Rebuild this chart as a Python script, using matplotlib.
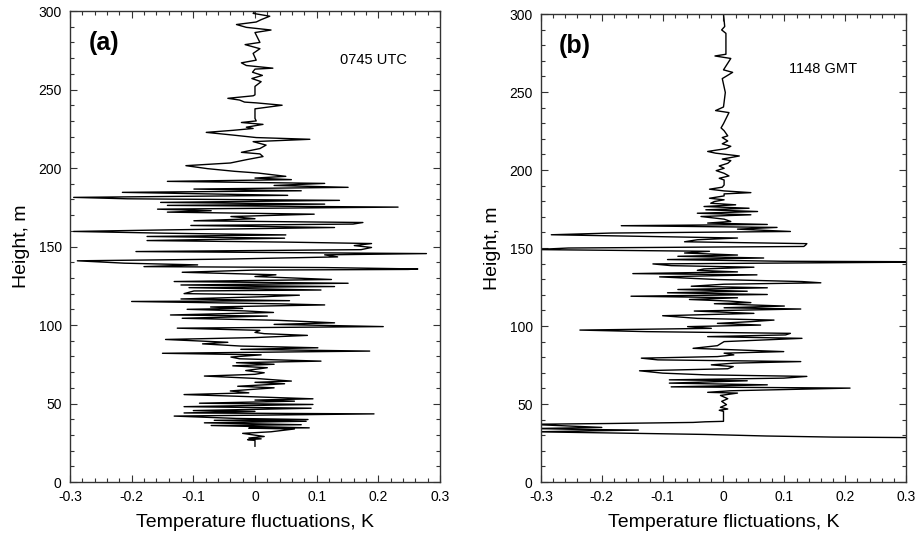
import matplotlib
matplotlib.use("Agg")
import matplotlib.pyplot as plt
from matplotlib.ticker import MultipleLocator

plt.rcParams['font.family'] = ['Liberation Sans', 'DejaVu Sans']

# panel (a): 0745 UTC profile, height (m) and temperature fluctuation (K)
height_a = [22.8, 26.5, 27.0, 27.5, 28.0, 29.0, 31.0, 32.0, 33.8, 34.3, 34.5, 36.0, 36.5, 37.7,
            38.7, 39.3, 39.8, 40.5, 42.0, 43.4, 44.0, 45.0, 45.5, 47.0, 48.0, 49.4, 50.2, 51.5,
            52.2, 53.0, 54.7, 55.7, 56.8, 58.0, 60.0, 61.0, 62.6, 63.5, 64.3, 66.0, 67.5, 68.6,
            69.6, 71.0, 72.8, 74.0, 75.0, 76.0, 77.0, 78.5, 79.6, 81.0, 82.0, 83.4, 84.5, 85.5,
            86.6, 88.0, 89.0, 90.8, 92.0, 93.4, 94.5, 95.3, 96.6, 98.0, 99.0, 100.4, 101.4, 103.0,
            104.3, 105.7, 106.4, 108.0, 109.0, 110.0, 110.6, 111.5, 112.8, 113.5, 115.0, 115.5,
            116.6, 118.0, 119.0, 120.0, 121.7, 122.3, 123.8, 124.5, 125.5, 126.6, 127.7, 129.0,
            130.9, 132.0, 133.6, 135.0, 135.4, 135.7, 136.6, 137.2, 138.3, 139.4, 140.9, 142.0,
            143.4, 144.7, 145.5, 146.8, 148.0, 149.4, 150.6, 151.9, 152.8, 153.8, 155.3, 156.4,
            157.4, 158.5, 159.6, 160.6, 162.1, 163.4, 164.3, 165.3, 166.4, 167.7, 169.1, 170.6,
            171.9, 172.8, 173.8, 175.1, 176.2, 177.0, 178.1, 179.4, 180.4, 181.3, 182.6, 183.6,
            184.5, 185.5, 186.6, 187.7, 188.9, 190.2, 191.5, 192.6, 193.6, 194.7, 196.8, 197.9,
            199.6, 201.5, 203.2, 205.3, 207.3, 209.0, 210.0, 212.4, 214.6, 216.8, 218.3, 219.4,
            221.0, 222.7, 224.0, 225.2, 226.0, 227.8, 229.0, 230.0, 231.6, 237.7, 240.0, 241.5,
            242.0, 243.3, 244.4, 246.0, 246.6, 252.0, 255.0, 257.0, 259.0, 261.0, 263.0, 263.6,
            265.3, 267.0, 268.7, 273.0, 276.0, 278.6, 280.0, 286.3, 287.9, 289.6, 291.4, 293.0,
            294.5, 296.7, 298.5, 300.0]
temp_a = [0.0, 0.0, -0.012, 0.01, -0.01, 0.015, -0.02, 0.026, 0.064, -0.01, 0.088, -0.071, 0.075,
          -0.082, 0.083, -0.066, 0.086, -0.03, -0.131, 0.193, -0.115, 0.0, -0.1, 0.091, -0.115,
          0.094, -0.09, 0.064, 0.0, 0.094, -0.034, -0.115, -0.01, -0.04, 0.031, -0.028, 0.048,
          0.0, 0.059, 0.0, -0.082, 0.0, 0.015, -0.015, 0.02, -0.036, 0.031, -0.03, 0.107, -0.025,
          -0.039, 0.01, -0.15, 0.186, -0.023, 0.102, -0.023, -0.085, -0.044, -0.145, 0.0, 0.085,
          0.015, 0.0, 0.008, -0.126, 0.208, 0.031, 0.129, 0.037, -0.118, 0.02, -0.137, 0.03,
          -0.017, -0.11, -0.02, -0.072, 0.113, 0.04, -0.2, 0.056, -0.12, 0.012, 0.072, -0.115,
          -0.099, 0.107, -0.107, 0.129, -0.12, 0.151, -0.131, 0.124, 0.0, 0.034, -0.118, 0.0,
          0.248, 0.264, 0.113, -0.18, -0.093, -0.212, -0.288, -0.044, 0.134, 0.113, 0.278, -0.193,
          0.172, 0.189, 0.161, 0.189, 0.053, -0.175, 0.048, -0.175, 0.05, -0.147, -0.294, -0.142,
          0.129, -0.104, 0.159, 0.175, -0.099, 0.0, -0.039, 0.096, -0.142, -0.071, -0.158, 0.232,
          -0.142, 0.113, -0.153, 0.137, -0.207, -0.294, 0.053, -0.088, -0.215, 0.075, -0.099,
          0.151, 0.031, 0.113, -0.142, 0.059, 0.0, 0.05, 0.005, -0.033, -0.077, -0.112, -0.04,
          -0.014, 0.013, 0.008, -0.022, 0.008, 0.018, -0.003, 0.089, 0.002, -0.036, -0.079,
          -0.036, -0.003, -0.014, 0.013, -0.022, 0.002, 0.0, 0.0, 0.044, 0.002, -0.017, -0.025,
          -0.044, -0.003, 0.0, 0.0, 0.01, -0.005, 0.012, -0.004, 0.0, 0.029, -0.014, -0.022,
          0.002, -0.003, 0.008, -0.016, 0.008, 0.0, 0.026, -0.014, -0.03, 0.002, 0.01, 0.024,
          -0.003, 0.0]

# panel (b): 1148 GMT profile
height_b = [27.5, 28.5, 28.8, 29.5, 30.5, 31.5, 32.2, 33.3, 33.8, 34.3, 35.0, 37.0, 37.5, 38.2,
            38.6, 38.9, 45.3, 46.0, 46.8, 47.9, 49.6, 51.7, 53.4, 55.5, 57.0, 57.5, 58.5, 60.2,
            61.0, 62.3, 63.4, 64.9, 65.5, 66.6, 67.7, 68.7, 69.8, 71.3, 72.6, 74.0, 75.1, 76.2,
            77.2, 78.3, 79.4, 80.4, 81.5, 82.6, 83.6, 85.7, 87.4, 90.0, 92.1, 93.2, 94.3, 95.3,
            96.4, 97.4, 98.5, 99.6, 100.6, 101.7, 102.8, 103.8, 104.9, 106.6, 108.1, 109.6, 110.9,
            111.7, 112.8, 114.3, 115.0, 116.0, 117.0, 118.1, 119.1, 120.2, 121.3, 122.3, 123.4,
            124.5, 125.5, 126.8, 127.7, 128.5, 129.8, 131.5, 132.8, 133.6, 134.7, 135.7, 136.6,
            137.7, 138.7, 139.8, 140.9, 141.2, 141.5, 142.6, 143.6, 144.7, 145.5, 146.8, 147.9,
            149.0, 150.0, 151.0, 151.9, 152.8, 154.0, 155.3, 156.4, 157.4, 158.5, 159.6, 160.6,
            162.1, 163.2, 164.3, 165.1, 166.0, 167.0, 168.5, 170.2, 171.3, 172.3, 173.4, 174.5,
            175.5, 176.6, 177.7, 178.7, 179.8, 180.9, 181.9, 183.4, 184.7, 185.5, 186.6, 187.7,
            189.0, 190.4, 193.6, 194.7, 196.2, 197.9, 199.6, 201.1, 202.6, 204.3, 206.0, 207.0,
            209.0, 210.8, 211.9, 213.7, 215.2, 216.8, 218.6, 220.8, 221.9, 225.2, 227.0, 229.7,
            236.8, 238.1, 240.4, 249.7, 258.6, 262.6, 264.2, 271.5, 273.1, 274.2, 287.6, 289.8,
            292.0, 300.0]
temp_b = [0.40, 0.30, 0.18, 0.07, -0.03, -0.20, -0.31, -0.14, -0.25, -0.31, -0.20, -0.32, -0.19,
          -0.05, -0.03, 0.0, 0.0, -0.007, 0.007, -0.005, 0.005, -0.003, 0.007, -0.005, 0.023,
          -0.026, 0.012, 0.208, -0.086, 0.072, -0.089, 0.039, -0.089, 0.099, 0.137, -0.03, -0.1,
          -0.138, 0.007, 0.016, -0.02, 0.017, 0.127, -0.108, -0.135, -0.01, 0.017, 0.001, 0.099,
          -0.05, -0.01, 0.001, 0.129, -0.026, 0.102, 0.11, -0.127, -0.236, -0.02, -0.059, 0.061,
          -0.01, 0.045, 0.083, -0.043, -0.1, 0.05, -0.048, 0.127, 0.001, 0.1, -0.015, 0.045,
          0.009, -0.056, 0.023, -0.152, 0.072, -0.092, 0.039, -0.075, 0.072, -0.053, 0.001, 0.16,
          0.129, -0.01, -0.105, 0.055, -0.149, 0.023, -0.043, -0.032, 0.05, -0.086, -0.116, 0.30,
          0.33, 0.1, -0.092, 0.066, -0.075, 0.023, -0.064, -0.023, -0.31, -0.255, 0.132, 0.135,
          0.137, -0.064, -0.043, 0.023, -0.122, -0.283, -0.184, 0.11, 0.023, 0.088, -0.168, 0.072,
          -0.026, 0.012, 0.001, -0.037, 0.045, -0.043, 0.056, -0.029, 0.042, -0.032, 0.02, -0.021,
          -0.015, 0.001, -0.023, 0.001, 0.001, 0.045, 0.001, -0.023, -0.002, 0.001, 0.001, -0.007,
          0.009, 0.001, -0.012, 0.001, -0.007, 0.007, 0.012, -0.002, 0.026, -0.013, -0.026, 0.004,
          0.012, -0.002, 0.007, -0.002, 0.007, 0.001, -0.004, 0.0, 0.009, -0.013, 0.0, 0.003,
          -0.002, 0.015, 0.0, 0.012, -0.014, 0.004, 0.004, -0.003, 0.002, 0.0]

xticks = [-0.3, -0.2, -0.1, 0.0, 0.1, 0.2, 0.3]
xtick_labels = ['-0.3', '-0.2', '-0.1', '0', '0.1', '0.2', '0.3']
yticks = [0, 50, 100, 150, 200, 250, 300]

fig = plt.figure(figsize=(9.23, 5.43), dpi=100)
ax_a = fig.add_axes([0.0758, 0.1123, 0.4009, 0.8674])
ax_b = fig.add_axes([0.5861, 0.1123, 0.3955, 0.8619])

panels = [
    (ax_a, temp_a, height_a, '(a)', '0745 UTC', 0.73, 0.896, 'Temperature fluctuations, K'),
    (ax_b, temp_b, height_b, '(b)', '1148 GMT', 0.68, 0.882, 'Temperature flictuations, K'),
]

for ax, t, h, tag, when, tx, ty, xlab in panels:
    ax.plot(t, h, color='black', linewidth=1.0)
    ax.set_xlim(-0.3, 0.3)
    ax.set_ylim(0, 300)
    ax.set_xticks(xticks)
    ax.set_xticklabels(xtick_labels)
    ax.set_yticks(yticks)
    ax.xaxis.set_minor_locator(MultipleLocator(0.02))
    ax.yaxis.set_minor_locator(MultipleLocator(10))
    ax.tick_params(which='both', direction='in', top=True, right=True,
                   color='#333333', width=0.8)
    ax.tick_params(which='major', length=5, labelsize=10, pad=6)
    ax.tick_params(which='minor', length=3)
    for s in ax.spines.values():
        s.set_color('#333333')
        s.set_linewidth(1.0)
    ax.set_xlabel(xlab, fontsize=14, labelpad=7)
    ax.set_ylabel('Height, m', fontsize=14, labelpad=6)
    ax.text(0.05, 0.932, tag, transform=ax.transAxes, fontsize=18, fontweight='bold',
            va='center', ha='left')
    ax.text(tx, ty, when, transform=ax.transAxes, fontsize=10.5, va='center', ha='left')

fig.savefig('out.png', dpi=100)
